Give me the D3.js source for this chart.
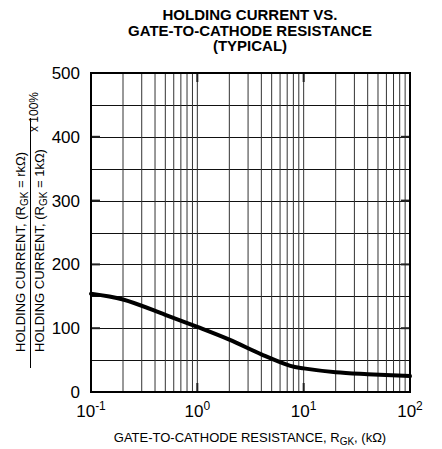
<!DOCTYPE html>
<html>
<head>
<meta charset="utf-8">
<script src="https://cdn.jsdelivr.net/npm/d3@7"></script>
<style>
  body { margin: 0; background: #fff; }
  text { font-family: "Liberation Sans", Arial, sans-serif; fill: #000; }
</style>
</head>
<body>
<script>
var w = 442;
var h = 449;

// values
var resistance = [0.1, 0.2, 0.5, 1, 2, 4, 7.5, 10, 20, 40, 100];
var holdingPct = [154, 145, 121, 102, 82, 59, 41, 37, 31, 28, 25];
var yTicks = [0, 100, 200, 300, 400, 500];
var yGrid = [50, 100, 150, 200, 250, 300, 350, 400, 450];
var decades = [0.1, 1, 10, 100];
var decadeExp = ['-1', '0', '1', '2'];
var titleLines = ['HOLDING CURRENT VS.', 'GATE-TO-CATHODE RESISTANCE', '(TYPICAL)'];

var x = d3.scaleLog().domain([0.1, 100]).range([91, 410]);
var y = d3.scaleLinear().domain([0, 500]).range([392, 73]);

var minors = [];
[0.1, 1, 10].forEach(function (d) {
  for (var k = 2; k <= 10; k++) minors.push(d * k);
});

var svg = d3.select('body').append('svg')
  .attr('width', w)
  .attr('height', h);

// title
svg.append('g').selectAll('text')
  .data(titleLines)
  .enter().append('text')
  .attr('x', 250)
  .attr('y', (d, i) => 20 + i * 15.5)
  .attr('text-anchor', 'middle')
  .style('font-size', '15px')
  .style('font-weight', 'bold')
  .text((d) => d);

// grid
var grid = svg.append('g');
grid.selectAll('.h')
  .data(yGrid)
  .enter().append('line')
  .attr('x1', x.range()[0]).attr('x2', x.range()[1])
  .attr('y1', (d) => Math.round(y(d)) + 0.5)
  .attr('y2', (d) => Math.round(y(d)) + 0.5)
  .attr('stroke', '#111').attr('stroke-width', 1);
grid.selectAll('.v')
  .data(minors)
  .enter().append('line')
  .attr('x1', (d) => x(d)).attr('x2', (d) => x(d))
  .attr('y1', y.range()[0]).attr('y2', y.range()[1])
  .attr('stroke', '#333').attr('stroke-width', 1);

// small inner ticks
var ticks = svg.append('g').attr('stroke', '#222').attr('stroke-width', 2);
[100, 200, 300, 400].forEach(function (v) {
  ticks.append('line').attr('x1', x.range()[0]).attr('x2', x.range()[0] + 9)
    .attr('y1', y(v)).attr('y2', y(v));
  ticks.append('line').attr('x1', x.range()[1] - 9).attr('x2', x.range()[1])
    .attr('y1', y(v)).attr('y2', y(v));
});
[1, 10].forEach(function (v) {
  ticks.append('line').attr('x1', x(v)).attr('x2', x(v))
    .attr('y1', y(500)).attr('y2', y(500) + 9);
  ticks.append('line').attr('x1', x(v)).attr('x2', x(v))
    .attr('y1', y(0)).attr('y2', y(0) - 9);
});

// frame
svg.append('rect')
  .attr('x', x.range()[0]).attr('y', y.range()[1])
  .attr('width', x.range()[1] - x.range()[0])
  .attr('height', y.range()[0] - y.range()[1])
  .attr('fill', 'none').attr('stroke', '#000').attr('stroke-width', 2);

// curve
var line = d3.line()
  .x((d, i) => x(resistance[i]))
  .y((d) => y(d))
  .curve(d3.curveCatmullRom.alpha(0.5));
svg.append('path')
  .datum(holdingPct)
  .attr('d', line)
  .attr('fill', 'none')
  .attr('stroke', '#000')
  .attr('stroke-width', 4)
  .attr('stroke-linecap', 'round');

// y tick labels
svg.append('g').selectAll('text')
  .data(yTicks)
  .enter().append('text')
  .attr('x', 80)
  .attr('y', (d) => y(d))
  .attr('dy', '0.35em')
  .attr('text-anchor', 'end')
  .style('font-size', '17px')
  .text((d) => d);

// x tick labels 10^n
var xl = svg.append('g').selectAll('text')
  .data(decades)
  .enter().append('text')
  .attr('x', (d) => x(d))
  .attr('y', 417)
  .attr('text-anchor', 'middle')
  .style('font-size', '17px');
xl.append('tspan').text('10');
xl.append('tspan')
  .attr('dy', -7)
  .style('font-size', '12px')
  .text((d, i) => decadeExp[i]);

// x axis title
var xt = svg.append('text')
  .attr('x', 250).attr('y', 442)
  .attr('text-anchor', 'middle')
  .style('font-size', '13px');
xt.append('tspan').text('GATE-TO-CATHODE RESISTANCE, R');
xt.append('tspan').attr('dy', 3).style('font-size', '10px').text('GK');
xt.append('tspan').attr('dy', -3).text(', (k\u03A9)');

// y axis title (fraction)
var yl = svg.append('g');
function fracLine(bx, tail) {
  var t = yl.append('text')
    .attr('transform', 'translate(' + bx + ',' + 352 + ') rotate(-90)')
    .attr('text-anchor', 'start')
    .style('font-size', '13px');
  t.append('tspan').text('HOLDING CURRENT, (R');
  t.append('tspan').attr('dy', 3).style('font-size', '10px').text('GK');
  t.append('tspan').attr('dy', -3).text(' = ' + tail + ')');
}
fracLine(24.5, 'rk\u03A9');
fracLine(44, '1k\u03A9');
yl.append('line')
  .attr('x1', 30.5).attr('x2', 30.5)
  .attr('y1', 118).attr('y2', 368)
  .attr('stroke', '#000').attr('stroke-width', 1);
yl.append('text')
  .attr('transform', 'translate(38,112) rotate(-90)')
  .attr('text-anchor', 'middle')
  .style('font-size', '12px')
  .text('x 100%');
</script>
</body>
</html>
